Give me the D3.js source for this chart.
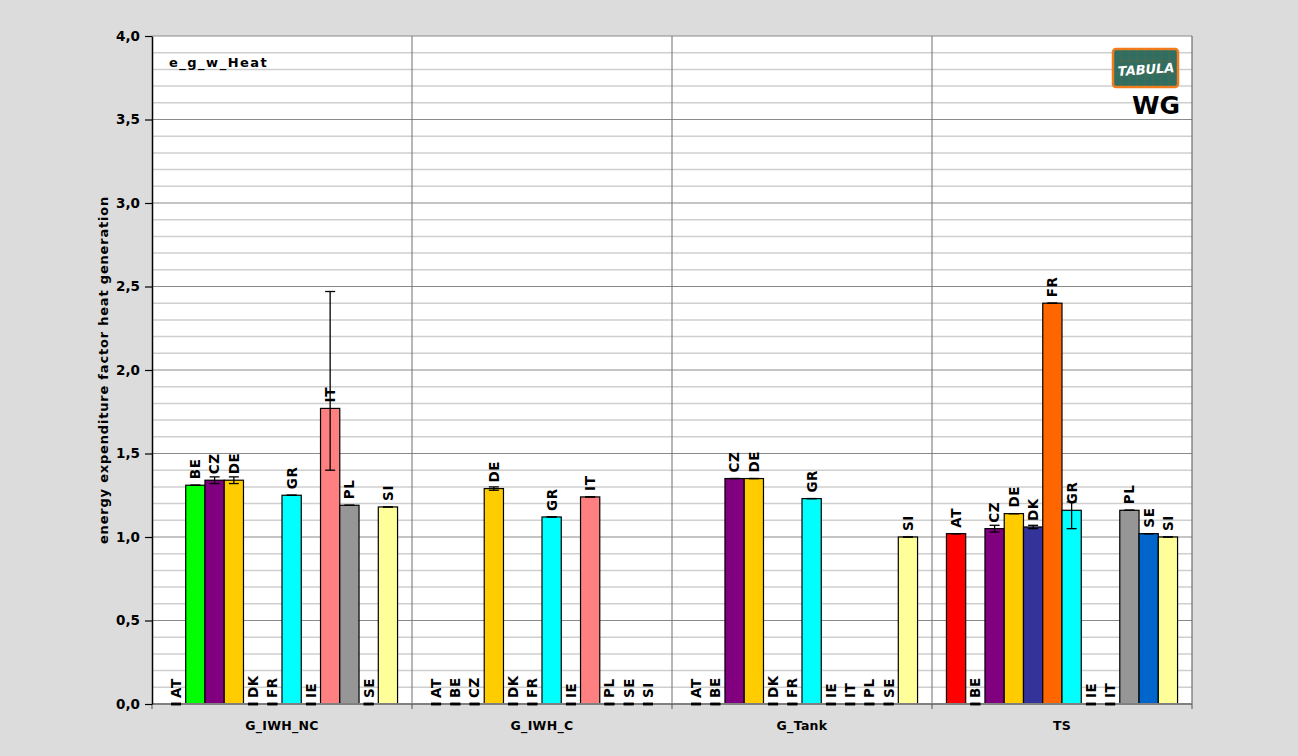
<!DOCTYPE html>
<html>
<head>
<meta charset="utf-8">
<script src="https://cdn.jsdelivr.net/npm/d3@7"></script>
<style>
html,body{margin:0;padding:0;background:#dcdcdc;}
svg{display:block;}
text{font-family:"DejaVu Sans",Verdana,sans-serif;}
</style>
</head>
<body>
<svg id="chart" width="1298" height="756"></svg>
<script>
const groups = ["G_IWH_NC", "G_IWH_C", "G_Tank", "TS"];
const countries = ["AT","BE","CZ","DE","DK","FR","GR","IE","IT","PL","SE","SI"];
const colors = ["#ff0000","#00ff00","#800080","#ffcc00","#333399","#ff6600","#00ffff","#99ccff","#ff8080","#969696","#0066cc","#ffff99"];

const valuesIWH_NC = [0, 1.31, 1.34, 1.34, 0, 0, 1.25, 0, 1.77, 1.19, 0, 1.18];
const lowIWH_NC    = [0, 1.31, 1.32, 1.32, 0, 0, 1.25, 0, 1.40, 1.19, 0, 1.18];
const highIWH_NC   = [0, 1.31, 1.36, 1.36, 0, 0, 1.25, 0, 2.47, 1.19, 0, 1.18];

const valuesIWH_C = [0, 0, 0, 1.29, 0, 0, 1.12, 0, 1.24, 0, 0, 0];
const lowIWH_C    = [0, 0, 0, 1.28, 0, 0, 1.12, 0, 1.24, 0, 0, 0];
const highIWH_C   = [0, 0, 0, 1.30, 0, 0, 1.12, 0, 1.24, 0, 0, 0];

const valuesTank = [0, 0, 1.35, 1.35, 0, 0, 1.23, 0, 0, 0, 0, 1.00];
const lowTank    = [0, 0, 1.35, 1.35, 0, 0, 1.23, 0, 0, 0, 0, 1.00];
const highTank   = [0, 0, 1.35, 1.35, 0, 0, 1.23, 0, 0, 0, 0, 1.00];

const valuesTS = [1.02, 0, 1.05, 1.14, 1.06, 2.40, 1.16, 0, 0, 1.16, 1.02, 1.00];
const lowTS    = [1.02, 0, 1.03, 1.14, 1.05, 2.40, 1.05, 0, 0, 1.16, 1.02, 1.00];
const highTS   = [1.02, 0, 1.07, 1.14, 1.07, 2.40, 1.21, 0, 0, 1.16, 1.02, 1.00];

const yTicks = [0, 0.5, 1, 1.5, 2, 2.5, 3, 3.5, 4];
const yTickLabels = ["0,0","0,5","1,0","1,5","2,0","2,5","3,0","3,5","4,0"];
const yMinor = d3.range(0, 41).map(i => i / 10);

const series = [
  {g: groups[0], v: valuesIWH_NC, lo: lowIWH_NC, hi: highIWH_NC},
  {g: groups[1], v: valuesIWH_C, lo: lowIWH_C, hi: highIWH_C},
  {g: groups[2], v: valuesTank, lo: lowTank, hi: highTank},
  {g: groups[3], v: valuesTS, lo: lowTS, hi: highTS}
];
const rows = [];
series.forEach(s => countries.forEach((c, i) => rows.push({g: s.g, c, i, v: s.v[i], lo: s.lo[i], hi: s.hi[i]})));

const svg = d3.select("#chart");
const pL = 152, pR = 1192, pT = 36, pB = 704;

const x0 = d3.scaleBand().domain(groups).range([pL, pR]).padding(0);
const x1 = d3.scaleBand().domain(countries).range([0, x0.bandwidth()]).paddingInner(0).paddingOuter(0.75);
const y = d3.scaleLinear().domain([0, 4]).range([pB, pT]);

// plot background
svg.append("rect").attr("x", pL).attr("y", pT).attr("width", pR - pL).attr("height", pB - pT).attr("fill", "#ffffff");

// minor gridlines
svg.append("g").selectAll("line").data(yMinor.filter(d => Math.round(d * 10) % 5 !== 0)).join("line")
  .attr("x1", pL).attr("x2", pR).attr("y1", d => y(d)).attr("y2", d => y(d))
  .attr("stroke", "#cfcfcf").attr("stroke-width", 1.5);
// major gridlines
svg.append("g").selectAll("line").data(yTicks.slice(1)).join("line")
  .attr("x1", pL).attr("x2", pR).attr("y1", d => y(d)).attr("y2", d => y(d))
  .attr("stroke", "#8a8a8a").attr("stroke-width", 1);

// group dividers
svg.append("g").selectAll("line").data(groups.slice(1)).join("line")
  .attr("x1", d => x0(d)).attr("x2", d => x0(d)).attr("y1", pT).attr("y2", pB)
  .attr("stroke", "#6e6e6e").attr("stroke-width", 1);
svg.append("line").attr("x1", pR).attr("x2", pR).attr("y1", pT).attr("y2", pB)
  .attr("stroke", "#6e6e6e").attr("stroke-width", 1.2);

// bars
const bw = x1.bandwidth();
svg.append("g").selectAll("rect").data(rows.filter(d => d.v > 0)).join("rect")
  .attr("x", d => x0(d.g) + x1(d.c)).attr("width", bw)
  .attr("y", d => y(d.v)).attr("height", d => y(0) - y(d.v))
  .attr("fill", d => colors[d.i]).attr("stroke", "#000").attr("stroke-width", 1.2);

// x axis line
svg.append("line").attr("x1", pL).attr("x2", pR).attr("y1", pB).attr("y2", pB)
  .attr("stroke", "#808080").attr("stroke-width", 2);
svg.append("g").selectAll("line").data(groups.concat(["end"])).join("line")
  .attr("x1", d => d === "end" ? pR : x0(d)).attr("x2", d => d === "end" ? pR : x0(d))
  .attr("y1", pB).attr("y2", pB + 5).attr("stroke", "#555").attr("stroke-width", 1);

// error bars
const cap = 5;
const eb = svg.append("g").attr("stroke", "#000").attr("stroke-width", 1.3);
rows.forEach(d => {
  const cx = x0(d.g) + x1(d.c) + bw / 2;
  if (d.hi - d.lo > 0.001) {
    eb.append("line").attr("x1", cx).attr("x2", cx).attr("y1", y(d.hi)).attr("y2", y(d.lo));
  }
  [d.lo, d.hi].forEach(v => eb.append("line").attr("x1", cx - cap).attr("x2", cx + cap).attr("y1", y(v)).attr("y2", y(v))
    .attr("stroke-width", v === 0 ? 2.5 : 1.3));
});

// country labels
svg.append("g").selectAll("text").data(rows).join("text")
  .attr("transform", d => `translate(${x0(d.g) + x1(d.c) + bw / 2},${y(d.v) - 6}) rotate(-90)`)
  .attr("dy", "0.36em").attr("text-anchor", "start")
  .attr("font-size", 13.5).attr("font-weight", "bold").attr("letter-spacing", 0.6).attr("fill", "#000")
  .text(d => d.c);

// y axis
const yAxis = d3.axisLeft(y).tickValues(yTicks).tickFormat((d, i) => yTickLabels[i]).tickSizeInner(7).tickSizeOuter(0).tickPadding(5);
const ga = svg.append("g").attr("transform", `translate(${pL},0)`).call(yAxis);
ga.select(".domain").attr("stroke", "#000").attr("stroke-width", 1.5);
ga.selectAll(".tick line").attr("stroke", "#000").attr("stroke-width", 1.2);
ga.selectAll(".tick text").attr("font-size", 13.5).attr("font-weight", "bold").attr("fill", "#000")
  .attr("font-family", "DejaVu Sans, Verdana, sans-serif");

// group labels
svg.append("g").selectAll("text").data(groups).join("text")
  .attr("x", d => x0(d) + x0.bandwidth() / 2).attr("y", 730)
  .attr("text-anchor", "middle").attr("font-size", 12.5).attr("font-weight", "bold").attr("letter-spacing", 0.3).text(d => d);

// y title
svg.append("text").attr("transform", `translate(108,${(pT + pB) / 2}) rotate(-90)`)
  .attr("text-anchor", "middle").attr("font-size", 13).attr("font-weight", "bold").attr("letter-spacing", 0.8)
  .text("energy expenditure factor heat generation");

// chart tag
svg.append("text").attr("x", 169).attr("y", 67).attr("font-size", 13).attr("font-weight", "bold").attr("letter-spacing", 1.5).text("e_g_w_Heat");

// logo
const logo = svg.append("g").attr("transform", "translate(1113,49)");
logo.append("rect").attr("width", 65).attr("height", 38).attr("rx", 3)
  .attr("fill", "#2f6e60").attr("stroke", "#f07c1e").attr("stroke-width", 2.5);
d3.range(1, 8).forEach(i => logo.append("line").attr("x1", i * 8).attr("x2", i * 8).attr("y1", 2).attr("y2", 36)
  .attr("stroke", "#a0623a").attr("stroke-width", 0.5).attr("opacity", 0.6));
[12, 24].forEach(v => logo.append("line").attr("x1", 2).attr("x2", 63).attr("y1", v).attr("y2", v)
  .attr("stroke", "#a0623a").attr("stroke-width", 0.5).attr("opacity", 0.6));
logo.append("text").attr("x", 33).attr("y", 25).attr("text-anchor", "middle")
  .attr("transform", "rotate(-4,33,20)")
  .attr("font-size", 13).attr("font-style", "italic").attr("font-weight", "bold")
  .attr("fill", "#ffffff").attr("font-family", "Liberation Sans Narrow, DejaVu Sans Condensed, sans-serif").text("TABULA");

svg.append("text").attr("x", 1180).attr("y", 114).attr("text-anchor", "end")
  .attr("font-size", 25).attr("font-weight", "bold").attr("font-family", "Liberation Sans, Arial, sans-serif").text("WG");
</script>
</body>
</html>
